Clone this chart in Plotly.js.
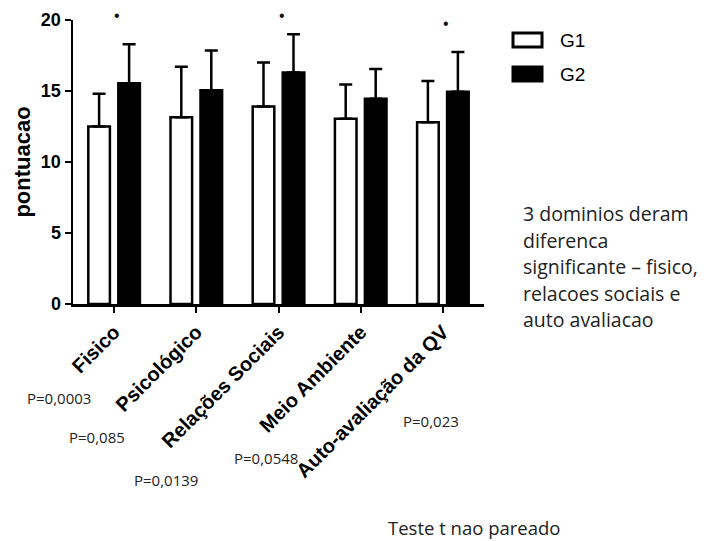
<!DOCTYPE html>
<html>
<head>
<meta charset="utf-8">
<script src="https://cdn.plot.ly/plotly-3.0.1.min.js"></script>
<style>html,body{margin:0;padding:0;background:#fff;}#chart{width:709px;height:541px;}</style>
</head>
<body>
<div id="chart"></div>
<script>
// ---- data ----
const categories = ["Fisico", "Psicológico", "Relações Sociais", "Meio Ambiente", "Auto-avaliação da QV"];
const g1Means = [12.5, 13.15, 13.9, 13.05, 12.8];
const g1SD    = [2.3, 3.55, 3.1, 2.4, 2.9];
const g2Means = [15.55, 15.05, 16.3, 14.45, 14.95];
const g2SD    = [2.75, 2.8, 2.7, 2.1, 2.8];
const sigCategories = ["Fisico", "Relações Sociais", "Auto-avaliação da QV"];
const sigMarkY = [20.3, 20.3, 19.75];
const pValues = ["P=0,0003", "P=0,085", "P=0,0139", "P=0,0548", "P=0,023"];
const noteLines = ["3 dominios deram", "diferenca", "significante – fisico,", "relacoes sociais e", "auto avaliacao"];
const footNote = "Teste t nao pareado";
const seriesNames = ["G1", "G2"];

// ---- layout helpers (pixel -> paper) ----
const L = 73, T = 20, W = 411, H = 284;
const YMAX = 20;
const px = x => (x - L) / W;
const py = y => (T + H - y) / H;

const traces = [
  {
    type: "bar", name: seriesNames[0], x: categories, y: g1Means,
    marker: {color: "#ffffff", line: {color: "#000", width: 2.5}},
    error_y: {type: "data", symmetric: false, array: g1SD, arrayminus: g1SD.map(() => 0),
              color: "#000", thickness: 2.5, width: 6.5},
    showlegend: false, hoverinfo: "skip"
  },
  {
    type: "bar", name: seriesNames[1], x: categories, y: g2Means,
    marker: {color: "#000000", line: {color: "#000", width: 2.5}},
    error_y: {type: "data", symmetric: false, array: g2SD, arrayminus: g2SD.map(() => 0),
              color: "#000", thickness: 2.5, width: 6.5},
    showlegend: false, hoverinfo: "skip"
  }
];

const annotations = [];
// significance marks (anchored at the axis top, shifted by the value above it)
sigCategories.forEach((c, i) => annotations.push({
  text: "•", xref: "x", yref: "y", x: c, y: YMAX, xshift: 3,
  yshift: (sigMarkY[i] - YMAX) * H / YMAX,
  xanchor: "center", yanchor: "middle", showarrow: false,
  font: {family: "Liberation Sans", size: 16, color: "#111"}
}));
const pPos = [[59, 398], [97, 437], [166, 480], [266, 458], [431, 421]];
pValues.forEach((t, i) => annotations.push({
  text: t, xref: "paper", yref: "paper", x: px(pPos[i][0]), y: py(pPos[i][1]),
  xanchor: "center", yanchor: "middle", showarrow: false,
  font: {family: "Open Sans", size: 15, color: "#222"}
}));
const noteY = [213, 240, 266, 293, 319];
noteLines.forEach((t, i) => annotations.push({
  text: t, xref: "paper", yref: "paper", x: px(521), y: py(noteY[i]),
  xanchor: "left", yanchor: "middle", showarrow: false,
  font: {family: "Open Sans", size: 19.5, color: "#222"}
}));
annotations.push({
  text: footNote, xref: "paper", yref: "paper", x: px(386), y: py(527),
  xanchor: "left", yanchor: "middle", showarrow: false,
  font: {family: "Open Sans", size: 18.5, color: "#222"}
});
// legend labels
annotations.push({text: seriesNames[0], xref: "paper", yref: "paper", x: px(558), y: py(40),
  xanchor: "left", yanchor: "middle", showarrow: false,
  font: {family: "Liberation Sans", size: 19, color: "#000"}});
annotations.push({text: seriesNames[1], xref: "paper", yref: "paper", x: px(558), y: py(74),
  xanchor: "left", yanchor: "middle", showarrow: false,
  font: {family: "Liberation Sans", size: 19, color: "#000"}});

const shapes = [
  {type: "rect", xref: "paper", yref: "paper", x0: px(513), x1: px(542), y0: py(47), y1: py(33),
   line: {color: "#000", width: 3}, fillcolor: "#fff"},
  {type: "rect", xref: "paper", yref: "paper", x0: px(513), x1: px(542), y0: py(81), y1: py(67),
   line: {color: "#000", width: 3}, fillcolor: "#000"}
];

const layout = {
  width: 709, height: 541,
  margin: {l: L, r: 709 - L - W, t: T, b: 541 - T - H, pad: 0},
  paper_bgcolor: "#fff", plot_bgcolor: "#fff",
  barmode: "group", bargap: 0.27, bargroupgap: 0.28,
  showlegend: false,
  font: {family: "Liberation Sans", color: "#000"},
  xaxis: {
    type: "category", range: [-0.5, 4.5], showline: true, linewidth: 2.5, linecolor: "#000",
    ticks: "outside", ticklen: 6, tickwidth: 2, tickcolor: "#000",
    tickangle: -45, showgrid: false, zeroline: false,
    tickfont: {family: "Liberation Sans", size: 20, color: "#000", weight: "bold"}
  },
  yaxis: {
    range: [0, YMAX], tickvals: [0, 5, 10, 15, 20], showline: true, linewidth: 2.5, linecolor: "#000",
    ticks: "outside", ticklen: 6, tickwidth: 2, tickcolor: "#000",
    showgrid: false, zeroline: false,
    tickfont: {family: "Liberation Sans", size: 18, color: "#000", weight: "bold"},
    title: {text: "pontuacao", standoff: 4,
            font: {family: "Liberation Sans", size: 22, color: "#000", weight: "bold"}}
  },
  annotations: annotations,
  shapes: shapes
};

Plotly.newPlot("chart", traces, layout, {staticPlot: true});
</script>
</body>
</html>
